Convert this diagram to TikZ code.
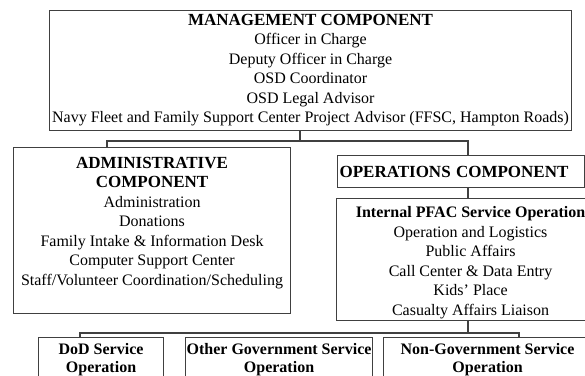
\documentclass[tikz,border=0pt]{standalone}
\usepackage{fontspec}
\setmainfont{Liberation Serif}

\begin{document}
\begin{tikzpicture}[
    x=1pt, y=-1pt,
    box/.style={rectangle, draw=black!75, line width=1.1pt, inner ysep=0pt, inner xsep=2pt, align=center, anchor=north west, font=\fontsize{16}{19.5}\selectfont},
    link/.style={draw=black!75, line width=1.1pt}
]
\useasboundingbox (0,0) rectangle (585,375);
\clip (0,0) rectangle (585,375);

% Management
\node[box, minimum width=522pt, text height=112.1pt, text depth=7.9pt] (mgmt) at (49,10)
  {{\fontsize{17}{19.5}\selectfont\bfseries MANAGEMENT COMPONENT}\\
   Officer in Charge\\ Deputy Officer in Charge\\ OSD Coordinator\\ OSD Legal Advisor\\
   Navy Fleet and Family Support Center Project Advisor (FFSC, Hampton Roads)};

% Administrative / operations
\node[box, minimum width=277pt, text height=137.6pt, text depth=28.4pt] (admin) at (13,147)
  {{\fontsize{17}{19.5}\selectfont\bfseries ADMINISTRATIVE}\\
   {\fontsize{17}{19.5}\selectfont\bfseries COMPONENT}\\
   Administration\\ Donations\\ Family Intake \& Information Desk\\
   Computer Support Center\\ Staff/Volunteer Coordination/Scheduling};
\node[box, text width=243pt, align=left, text height=21.6pt, text depth=10.4pt] (ops) at (337,155)
  {\fontsize{17}{19.5}\selectfont\bfseries OPERATIONS COMPONENT};
\node[box, minimum width=268pt, text height=116.5pt, text depth=5.5pt] (internal) at (336,198)
  {\textbf{Internal PFAC Service Operation}\\ Operation and Logistics\\ Public Affairs\\
   Call Center \& Data Entry\\ Kids' Place\\ Casualty Affairs Liaison};

% Service operations
\node[box, minimum width=125pt, text height=34.5pt, text depth=14pt, font=\fontsize{16}{18}\selectfont\bfseries] (dod) at (38,337)
  {DoD Service\\ Operation};
\node[box, minimum width=187pt, text height=34.5pt, text depth=14pt, inner xsep=1pt, font=\fontsize{16}{18}\selectfont\bfseries] (othergov) at (185,337)
  {Other Government Service\\ Operation};
\node[box, minimum width=208pt, text height=34.5pt, text depth=14pt, font=\fontsize{16}{18}\selectfont\bfseries] (nongov) at (383,337)
  {Non-Government Service\\ Operation};

% Connectors
\coordinate (top) at (300,141);
\coordinate (topL) at (107,141);
\coordinate (topR) at (468,141);
\coordinate (low) at (468,333);
\coordinate (lowL) at (80,333);
\coordinate (lowR) at (519,333);

\draw[link] (mgmt.south -| top) -- (top);
\draw[link] (admin.north -| topL) -- (topL) -- (topR) -- (ops.north -| topR);
\draw[link] (ops.south -| topR) -- (internal.north -| topR);
\draw[link] (internal.south -| low) -- (low);
\draw[link] (dod.north -| lowL) -- (lowL) -- (lowR) -- (nongov.north -| lowR);

\end{tikzpicture}
\end{document}
